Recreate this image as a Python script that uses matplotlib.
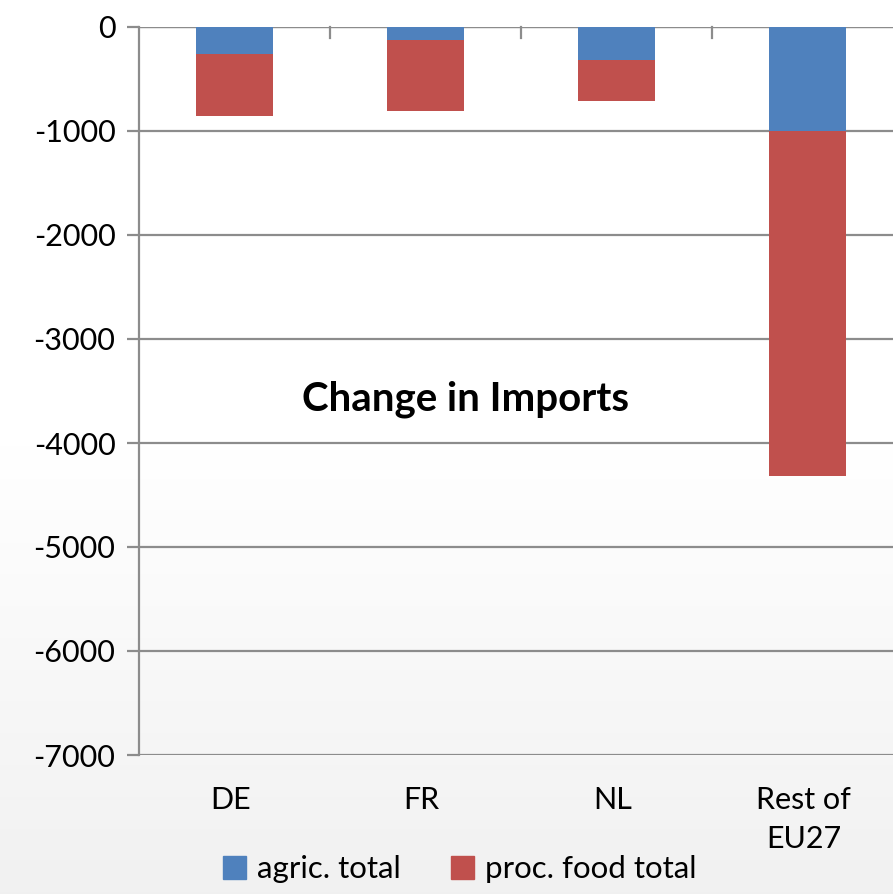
import numpy as np
import matplotlib.pyplot as plt
from matplotlib.patches import Patch

# --- data ---
regions = ['DE', 'FR', 'NL', 'Rest of\nEU27']
agric_total = [-255, -128, -314, -1000]
proc_food_total = [-605, -675, -400, -3317]
y_ticks = [0, -1000, -2000, -3000, -4000, -5000, -6000, -7000]

BLUE = '#4F81BD'
RED = '#C0504D'
GRID = '#8c8c8c'

plt.rcParams['font.family'] = ['Lato', 'DejaVu Sans']

fig = plt.figure(figsize=(8.93, 8.94), dpi=100)

# soft white-to-grey background behind the whole chart
bg = fig.add_axes([0, 0, 1, 1], zorder=0)
rows = np.linspace(0, 1, 400)
shade = np.where(rows < 0.5, 1.0, 1.0 - (rows - 0.5) / 0.5 * 0.055)
bg.imshow(np.dstack([shade, shade, shade]).reshape(400, 1, 3), aspect='auto',
          extent=[0, 1, 0, 1], origin='upper')
bg.axis('off')

left, right = 139 / 893, 903 / 893
top, bottom = 1 - 27 / 894, 1 - 755 / 894
ax = fig.add_axes([left, bottom, right - left, top - bottom], zorder=1)
ax.set_facecolor('none')

x = np.arange(len(regions))
ax.bar(x, agric_total, width=0.4, color=BLUE, zorder=3)
ax.bar(x, proc_food_total, width=0.4, bottom=agric_total, color=RED, zorder=3)

ax.set_xlim(-0.5, len(regions) - 0.5)
ax.set_ylim(-7000, 0)
ax.set_yticks(y_ticks)
ax.set_yticklabels([str(v) for v in y_ticks], fontsize=22)
ax.yaxis.grid(True, color=GRID, linewidth=1.6, zorder=1)

# category ticks sit on the zero line, labels go below the plot
ax.set_xticks([])
for b in np.arange(0.5, len(regions) - 0.5, 1.0):
    ax.plot([b, b], [0, -110], color=GRID, linewidth=1.6, zorder=2, clip_on=False)
for xi, name in zip(x, regions):
    ax.text(xi - 0.02, -7300, name, ha='center', va='top', fontsize=22,
            linespacing=1.45)

for side in ['top', 'right', 'bottom']:
    ax.spines[side].set_visible(False)
ax.spines['left'].set_color(GRID)
ax.spines['left'].set_linewidth(1.6)
ax.axhline(0, color=GRID, linewidth=1.6, zorder=2)
ax.tick_params(axis='y', length=9, color=GRID, width=1.6, pad=8)

ax.text(1.21, -3580, 'Change in Imports', ha='center', va='center',
        fontsize=29, fontweight='bold', zorder=4)

handles = [Patch(color=BLUE, label='agric. total'),
           Patch(color=RED, label='proc. food total')]
fig.legend(handles=handles, loc='lower center', bbox_to_anchor=(0.515, -0.009),
           ncol=2, frameon=False, handlelength=0.75, handleheight=0.75,
           handletextpad=0.35, columnspacing=1.6, borderpad=0.1,
           prop={'size': 22.5})

fig.savefig('out.png', dpi=100)
